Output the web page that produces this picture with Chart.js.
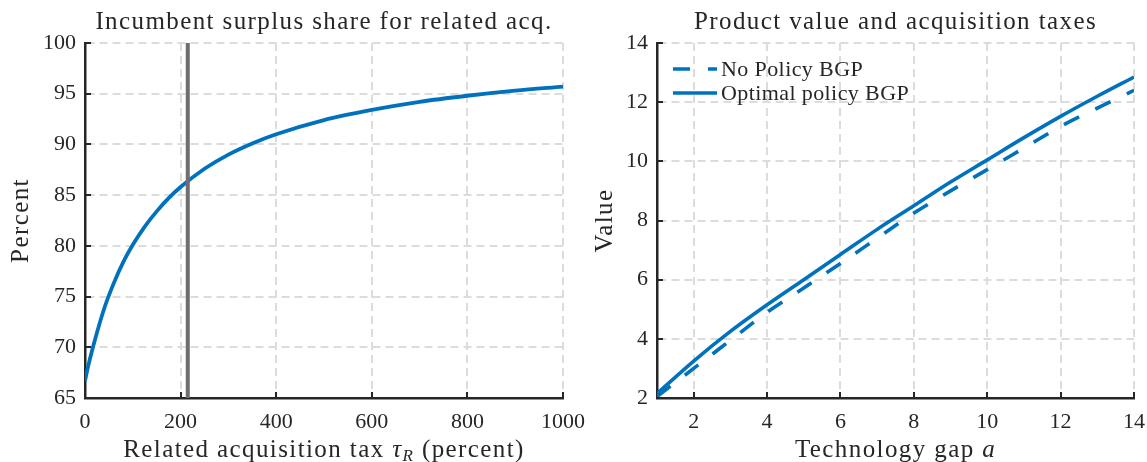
<!DOCTYPE html>
<html>
<head>
<meta charset="utf-8">
<script src="https://cdn.jsdelivr.net/npm/chart.js@4.4.1/dist/chart.umd.min.js"></script>
<style>
  html, body { margin: 0; padding: 0; background: #fff; }
  #wrap { position: relative; width: 1147px; height: 462px; overflow: hidden; background: #fff; }
  #wrap canvas { position: absolute; top: 0; }
  #surplusChart { left: 0; }
  #valueChart { left: 580px; }
</style>
</head>
<body>
<div id="wrap">
  <canvas id="surplusChart" width="620" height="462"></canvas>
  <canvas id="valueChart" width="567" height="462"></canvas>
</div>
<script>
// ============ DATA ============
const taxRate      = [0, 5, 10, 20, 40, 60, 80, 100, 125, 150, 175, 200, 250, 300, 350, 400, 500, 600, 700, 800, 900, 1000];
const surplusShare = [66.7, 67.8, 68.8, 70.6, 73.8, 76.3, 78.4, 80.1, 81.9, 83.4, 84.7, 85.8, 87.6, 89.0, 90.1, 91.0, 92.4, 93.4, 94.2, 94.8, 95.3, 95.7];
const chosenTax    = 215;
const surplusXTicks = [0, 200, 400, 600, 800, 1000];
const surplusYTicks = [65, 70, 75, 80, 85, 90, 95, 100];

const techGap       = [1, 2, 3, 4, 5, 6, 7, 8, 9, 10, 11, 12, 13, 14];
const noPolicyValue = [2.05, 3.0, 3.95, 4.9, 5.72, 6.55, 7.4, 8.25, 9.0, 9.72, 10.45, 11.18, 11.8, 12.4];
const optimalValue  = [2.15, 3.25, 4.25, 5.15, 6.0, 6.85, 7.7, 8.5, 9.3, 10.05, 10.8, 11.52, 12.2, 12.85];
const gapXTicks   = [2, 4, 6, 8, 10, 12, 14];
const valueYTicks = [2, 4, 6, 8, 10, 12, 14];

// ============ STYLE ============
const BLUE = '#0072BD';
const INK = '#262626';
const SERIF = '"Liberation Serif", "DejaVu Serif", serif';

const pts = (xs, ys) => xs.map((x, i) => ({ x, y: ys[i] }));

// MATLAB-ish decorations: inward ticks, title, axis labels, legend
const figureDecor = {
  id: 'figureDecor',
  afterDraw(chart, args, opts) {
    const { ctx, chartArea: a, scales } = chart;
    ctx.save();
    // inward tick marks
    ctx.strokeStyle = INK;
    ctx.lineWidth = 2;
    ctx.beginPath();
    scales.x.ticks.forEach(t => {
      const px = Math.round(scales.x.getPixelForValue(t.value));
      ctx.moveTo(px, a.bottom); ctx.lineTo(px, a.bottom - 6);
    });
    scales.y.ticks.forEach(t => {
      const py = Math.round(scales.y.getPixelForValue(t.value));
      ctx.moveTo(a.left, py); ctx.lineTo(a.left + 6, py);
    });
    ctx.stroke();

    ctx.fillStyle = INK;
    ctx.letterSpacing = '1.4px';
    // title
    ctx.font = '25px ' + SERIF;
    ctx.textAlign = 'center';
    ctx.textBaseline = 'alphabetic';
    ctx.fillText(opts.title, (a.left + a.right) / 2, 29);

    // x label, may contain italic / subscript parts
    const parts = opts.xLabel.map(p => ({
      ...p,
      font: (p.italic ? 'italic ' : '') + (p.sub ? '17px ' : '25px ') + SERIF
    }));
    let total = 0;
    parts.forEach(p => { ctx.font = p.font; p.w = ctx.measureText(p.text).width; total += p.w; });
    let x = (a.left + a.right) / 2 - total / 2;
    ctx.textAlign = 'left';
    parts.forEach(p => {
      ctx.font = p.font;
      ctx.fillText(p.text, x, p.sub ? 461 : 457);
      x += p.w;
    });

    // y label
    ctx.font = '25px ' + SERIF;
    ctx.translate(opts.yLabelX, (a.top + a.bottom) / 2);
    ctx.rotate(-Math.PI / 2);
    ctx.textAlign = 'center';
    ctx.textBaseline = 'middle';
    ctx.fillText(opts.yLabel, 0, 0);
    ctx.setTransform(1, 0, 0, 1, 0, 0);

    // legend
    if (opts.legend) {
      ctx.font = '22px ' + SERIF;
      ctx.letterSpacing = '0.4px';
      ctx.textAlign = 'left';
      ctx.textBaseline = 'middle';
      opts.legend.forEach((item, i) => {
        const ds = chart.data.datasets[item.dataset];
        const y = a.top + 26 + i * 24;
        ctx.strokeStyle = ds.borderColor;
        ctx.lineWidth = ds.borderWidth;
        ctx.setLineDash(ds.borderDash || []);
        ctx.beginPath();
        ctx.moveTo(a.left + 16, y); ctx.lineTo(a.left + 60, y);
        ctx.stroke();
        ctx.setLineDash([]);
        ctx.fillStyle = INK;
        ctx.fillText(ds.label, a.left + 64, y + 1);
      });
    }
    ctx.letterSpacing = '0px';
    ctx.restore();
  }
};

function axis(min, max, tickValues, fixedSize, isY) {
  return {
    type: 'linear',
    min, max,
    afterBuildTicks: s => { s.ticks = tickValues.map(v => ({ value: v })); },
    afterFit: s => {
      if (isY) s.width = fixedSize; else s.height = fixedSize;
      s.paddingLeft = s.paddingRight = s.paddingTop = s.paddingBottom = 0;
    },
    grid: { color: '#dcdcdc', lineWidth: 2, drawTicks: false },
    border: { display: true, color: INK, width: 2.5, dash: [8, 5] },
    ticks: {
      color: INK,
      font: { family: SERIF, size: 22 },
      padding: isY ? 9 : 11,
      maxRotation: 0,
      autoSkip: false,
      callback: v => String(v)
    }
  };
}

// ============ LEFT: SURPLUS SHARE ============
new Chart(document.getElementById('surplusChart'), {
  type: 'line',
  data: {
    datasets: [
      {
        label: 'Chosen tax',
        data: [{ x: chosenTax, y: 65 }, { x: chosenTax, y: 100 }],
        borderColor: '#6e6e6e', borderWidth: 4, pointRadius: 0
      },
      {
        label: 'Incumbent share',
        data: pts(taxRate, surplusShare),
        borderColor: BLUE, borderWidth: 3.8, pointRadius: 0,
        cubicInterpolationMode: 'monotone'
      }
    ]
  },
  options: {
    responsive: false,
    animation: false,
    layout: { padding: { top: 43, right: 57, bottom: 0, left: 0 } },
    plugins: {
      legend: { display: false },
      tooltip: { enabled: false },
      figureDecor: {
        title: 'Incumbent surplus share for related acq.',
        xLabel: [
          { text: 'Related acquisition tax ' },
          { text: 'τ', italic: true },
          { text: 'R', italic: true, sub: true },
          { text: ' (percent)' }
        ],
        yLabel: 'Percent',
        yLabelX: 21
      }
    },
    scales: {
      x: axis(0, 1000, surplusXTicks, 64, false),
      y: axis(65, 100, surplusYTicks, 85, true)
    }
  },
  plugins: [figureDecor]
});

// ============ RIGHT: PRODUCT VALUE ============
new Chart(document.getElementById('valueChart'), {
  type: 'line',
  data: {
    datasets: [
      {
        label: 'No Policy BGP',
        data: pts(techGap, noPolicyValue),
        borderColor: BLUE, borderWidth: 3.6, borderDash: [17, 18], pointRadius: 0,
        cubicInterpolationMode: 'monotone'
      },
      {
        label: 'Optimal policy BGP',
        data: pts(techGap, optimalValue),
        borderColor: BLUE, borderWidth: 3.6, pointRadius: 0,
        cubicInterpolationMode: 'monotone'
      }
    ]
  },
  options: {
    responsive: false,
    animation: false,
    layout: { padding: { top: 43, right: 13, bottom: 0, left: 0 } },
    plugins: {
      legend: { display: false },
      tooltip: { enabled: false },
      figureDecor: {
        title: 'Product value and acquisition taxes',
        xLabel: [
          { text: 'Technology gap ' },
          { text: 'a', italic: true }
        ],
        yLabel: 'Value',
        yLabelX: 25,
        legend: [{ dataset: 0 }, { dataset: 1 }]
      }
    },
    scales: {
      x: axis(1, 14, gapXTicks, 64, false),
      y: axis(2, 14, valueYTicks, 77, true)
    }
  },
  plugins: [figureDecor]
});
</script>
</body>
</html>
